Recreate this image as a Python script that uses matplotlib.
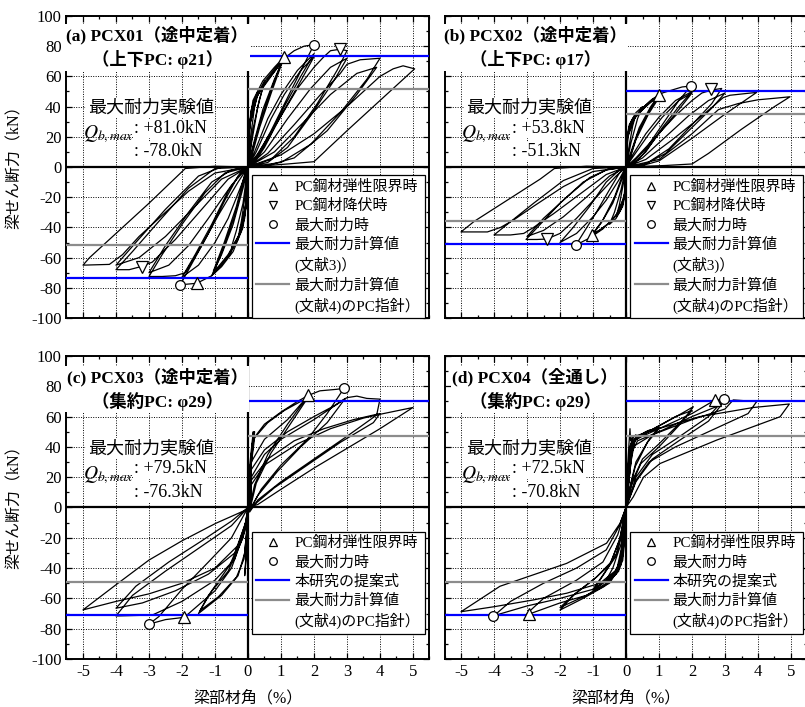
import matplotlib.pyplot as plt
import numpy as np
from matplotlib.lines import Line2D

plt.rcParams['font.family'] = ['Liberation Serif', 'Noto Sans CJK JP']
plt.rcParams['mathtext.fontset'] = 'stix'
plt.rcParams['axes.unicode_minus'] = False

# ---- hysteresis loops (drift %, shear kN) ----
a_pos = [(0, 0), (0.02, 18), (0.08, 35), (0.2, 45), (0.3, 50), (0.2, 40), (0.08, 20), (0, 2),
         (0, 0), (0.03, 22), (0.1, 38), (0.3, 48), (0.5, 56), (0.35, 45), (0.15, 25), (0.03, 5), (0, 0),
         (0.03, 24), (0.12, 40), (0.35, 50), (0.5, 57), (0.3, 40), (0.1, 15), (0, 0),
         (0.04, 26), (0.15, 44), (0.45, 57), (0.8, 66), (1.1, 73), (0.8, 58), (0.45, 38), (0.15, 14), (0, 0),
         (0.05, 27), (0.2, 45), (0.55, 58), (0.85, 66), (1.05, 71), (0.75, 54), (0.4, 32), (0.12, 10), (0, 0),
         (0.06, 28), (0.25, 46), (0.6, 58), (0.9, 66), (1.05, 70), (0.72, 50), (0.35, 26), (0.1, 6), (0, 0),
         (0.05, 28), (0.3, 48), (0.7, 60), (1.1, 72), (1.4, 77), (1.7, 80), (2.0, 81), (1.7, 68), (1.2, 46),
         (0.7, 24), (0.3, 8), (0, 0),
         (0.2, 10), (0.6, 32), (1.0, 48), (1.5, 64), (2.0, 75), (1.6, 60), (1.1, 40), (0.6, 18), (0.2, 4), (0, 0),
         (0.25, 10), (0.7, 32), (1.1, 48), (1.6, 64), (2.0, 73), (1.6, 57), (1.0, 34), (0.5, 13), (0.2, 3), (0, 0),
         (0.3, 9), (0.9, 30), (1.5, 52), (2.0, 66), (2.3, 73), (2.5, 77), (2.8, 78), (3.0, 77), (2.7, 64),
         (2.1, 42), (1.4, 20), (0.7, 5), (0, 0),
         (0.5, 10), (1.2, 32), (1.9, 52), (2.5, 66), (3.0, 72), (2.6, 57), (1.9, 34), (1.2, 13), (0.6, 3), (0, 0),
         (0.6, 9), (1.4, 28), (2.2, 48), (2.8, 62), (3.0, 68), (3.4, 71), (4.0, 72), (3.6, 58), (2.8, 36),
         (1.9, 15), (1.0, 3), (0, 0),
         (0.8, 10), (1.7, 30), (2.5, 48), (3.3, 62), (3.9, 66), (3.3, 48), (2.4, 24), (1.4, 6), (0.6, 1), (0, 0),
         (1.0, 8), (2.0, 22), (3.0, 40), (4.0, 60), (4.4, 65), (4.7, 67), (5.05, 65), (4.0, 44), (3.0, 24),
         (2.0, 3.5), (1.2, 2), (0, 0)]
a_neg = [(0, 0), (-0.02, -15), (-0.08, -30), (-0.2, -42), (-0.3, -47), (-0.2, -36), (-0.08, -18), (0, 0),
         (-0.03, -18), (-0.1, -34), (-0.3, -47), (-0.5, -53), (-0.35, -42), (-0.15, -24), (-0.03, -4), (0, 0),
         (-0.04, -22), (-0.15, -40), (-0.45, -56), (-0.8, -66), (-1.1, -72), (-0.8, -58), (-0.45, -38),
         (-0.15, -14), (0, 0),
         (-0.05, -22), (-0.2, -42), (-0.55, -58), (-0.85, -66), (-1.05, -70), (-0.75, -54), (-0.4, -32),
         (-0.12, -9), (0, 0),
         (-0.06, -24), (-0.25, -44), (-0.6, -58), (-0.9, -66), (-1.05, -69), (-0.72, -50), (-0.35, -26),
         (-0.1, -5), (0, 0),
         (-0.05, -26), (-0.3, -48), (-0.7, -62), (-1.1, -72), (-1.55, -77), (-2.05, -78), (-1.7, -64),
         (-1.2, -44), (-0.7, -22), (-0.3, -6), (0, 0),
         (-0.2, -12), (-0.6, -34), (-1.0, -50), (-1.5, -65), (-2.0, -73), (-1.6, -58), (-1.1, -38),
         (-0.6, -16), (-0.2, -3), (0, 0),
         (-0.3, -10), (-0.9, -32), (-1.4, -52), (-1.9, -70), (-2.2, -72), (-2.6, -72.5), (-3.0, -72.5),
         (-2.6, -58), (-2.0, -38), (-1.3, -17), (-0.7, -4), (0, 0),
         (-0.5, -12), (-1.2, -34), (-1.8, -52), (-2.4, -65), (-3.0, -70), (-2.5, -52), (-1.8, -30),
         (-1.1, -10), (-0.5, -2), (0, 0),
         (-0.6, -8), (-1.4, -28), (-2.2, -48), (-2.9, -63), (-3.25, -66), (-3.6, -68), (-4.0, -68),
         (-3.5, -56), (-2.7, -36), (-1.8, -14), (-1.0, -1), (0, 0),
         (-0.8, -8), (-1.6, -26), (-2.5, -46), (-3.3, -60), (-4.0, -65), (-3.4, -50), (-2.5, -28),
         (-1.5, -6), (-0.8, 0), (0, 0),
         (-1.0, -4), (-1.8, -16), (-2.6, -32), (-3.3, -46), (-3.8, -58), (-4.2, -64.5), (-5.0, -65),
         (-4.8, -60), (-4.0, -44), (-3.0, -24), (-1.9, -1), (-1.0, 0.5), (0, 0)]

b_pos = [(0, 0), (0.02, 15), (0.08, 26), (0.2, 32), (0.3, 35), (0.2, 27), (0.08, 12), (0, 0),
         (0.03, 18), (0.1, 28), (0.3, 36), (0.5, 40), (0.35, 32), (0.15, 16), (0.03, 3), (0, 0),
         (0.04, 20), (0.15, 30), (0.45, 38), (0.75, 44), (1.0, 48), (0.75, 40), (0.4, 26), (0.12, 8), (0, 0),
         (0.05, 20), (0.2, 31), (0.5, 39), (0.8, 45), (1.0, 47), (0.7, 37), (0.35, 22), (0.1, 5), (0, 0),
         (0.06, 20), (0.25, 32), (0.55, 39), (0.85, 45), (1.0, 46), (0.68, 35), (0.3, 18), (0.08, 3), (0, 0),
         (0.05, 22), (0.3, 34), (0.7, 42), (1.1, 49), (1.4, 51), (1.7, 53), (1.97, 53.6), (1.6, 44),
         (1.1, 28), (0.6, 12), (0.2, 3), (0, 0),
         (0.2, 8), (0.6, 22), (1.0, 33), (1.5, 44), (2.0, 50), (1.6, 40), (1.1, 26), (0.6, 10), (0.2, 2), (0, 0),
         (0.25, 8), (0.7, 22), (1.1, 33), (1.6, 44), (2.0, 49), (1.6, 38), (1.0, 22), (0.5, 8), (0.2, 1), (0, 0),
         (0.3, 6), (0.9, 20), (1.5, 34), (2.0, 44), (2.3, 49), (2.6, 51), (2.9, 52), (2.6, 42), (2.0, 28),
         (1.3, 12), (0.6, 2), (0, 0),
         (0.5, 6), (1.2, 20), (1.9, 34), (2.5, 44), (3.0, 49), (2.6, 39), (1.9, 24), (1.2, 9), (0.5, 1), (0, 0),
         (0.6, 5), (1.4, 18), (2.2, 32), (2.95, 46), (3.15, 47.5), (3.96, 49.4), (3.0, 35), (2.0, 19),
         (1.0, 4), (0.5, 1), (0, 0),
         (1.0, 5), (2.0, 22), (2.8, 38), (3.4, 42), (4.0, 44.5), (4.5, 45.5), (4.97, 46.5), (4.5, 40),
         (3.5, 25), (2.5, 9), (2.0, 2), (1.2, 1), (0, 0)]
b_neg = [(0, 0), (-0.02, -14), (-0.08, -24), (-0.2, -30), (-0.3, -33), (-0.2, -25), (-0.08, -11), (0, 0),
         (-0.03, -16), (-0.1, -26), (-0.3, -34), (-0.5, -38), (-0.35, -30), (-0.15, -15), (-0.03, -3), (0, 0),
         (-0.04, -18), (-0.15, -28), (-0.45, -36), (-0.75, -41), (-1.02, -45), (-0.75, -37), (-0.4, -24),
         (-0.12, -8), (0, 0),
         (-0.05, -18), (-0.2, -29), (-0.5, -37), (-0.8, -42), (-1.0, -44), (-0.7, -35), (-0.35, -20),
         (-0.1, -5), (0, 0),
         (-0.05, -20), (-0.3, -32), (-0.7, -41), (-1.1, -47), (-1.52, -51.7), (-1.3, -44), (-0.9, -30),
         (-0.5, -15), (-0.2, -4), (0, 0),
         (-0.2, -8), (-0.6, -22), (-1.0, -33), (-1.5, -44), (-2.0, -50), (-1.6, -40), (-1.1, -26),
         (-0.6, -10), (-0.2, -2), (0, 0),
         (-0.3, -6), (-0.9, -20), (-1.5, -34), (-2.0, -44), (-2.4, -47.7), (-2.7, -48), (-3.03, -48),
         (-2.6, -38), (-2.0, -24), (-1.3, -10), (-0.6, -2), (0, 0),
         (-0.5, -6), (-1.2, -20), (-1.9, -33), (-2.5, -42), (-3.0, -46), (-2.5, -34), (-1.8, -20),
         (-1.1, -7), (-0.5, -1), (0, 0),
         (-0.6, -5), (-1.4, -18), (-2.2, -31), (-2.8, -40), (-3.1, -44), (-3.5, -45), (-4.0, -45),
         (-3.6, -38), (-2.8, -24), (-1.9, -9), (-1.0, -1), (0, 0),
         (-1.0, -3), (-1.9, -13), (-2.8, -26), (-3.4, -35), (-3.8, -40), (-4.2, -43), (-5.0, -43),
         (-4.6, -36), (-3.6, -22), (-2.6, -8), (-2.17, -1), (-1.2, 0.5), (0, 0)]

c_pos = [(0, 0), (0.05, 20), (0.1, 35), (0.15, 45), (0.2, 50), (0.1, 30), (0.05, 10), (0, 0),
         (0.04, 25), (0.12, 42), (0.16, 50), (0.12, 36), (0.06, 15), (0, -2),
         (0.05, 22), (0.15, 45), (0.5, 55), (1.0, 63), (1.5, 70), (1.83, 74), (1.2, 55), (0.6, 35),
         (0.2, 15), (0.05, 0),
         (0.08, 25), (0.2, 46), (0.6, 56), (1.1, 64), (1.6, 70), (1.8, 72), (1.25, 54), (0.7, 36),
         (0.25, 16), (0.05, -2),
         (0.1, 30), (0.5, 45), (1.2, 58), (1.83, 74), (2.18, 77), (2.69, 78), (2.91, 78.7), (2.4, 62),
         (1.8, 45), (1.0, 28), (0.4, 12), (0.1, 0),
         (0.1, 25), (0.5, 38), (1.2, 50), (2.0, 60), (2.6, 67), (2.95, 72), (2.4, 56), (1.6, 40),
         (0.9, 24), (0.3, 8), (0.05, -2),
         (0.1, 20), (0.5, 35), (1.0, 45), (2.0, 58), (3.0, 72.5), (3.3, 73.5), (3.6, 72), (4.0, 71.5),
         (3.9, 61), (3.0, 47), (2.0, 32), (1.0, 17), (0.3, 5), (0.05, -3),
         (0.1, 18), (0.6, 32), (1.4, 44), (2.3, 52), (3.2, 58), (4.0, 62), (3.8, 56), (2.8, 43),
         (1.8, 28), (0.8, 13), (0.2, 2), (0, -3),
         (0.1, 15), (0.5, 28), (1.5, 42), (2.5, 52), (3.5, 59), (4.0, 61.5), (5.0, 66), (4.0, 52),
         (3.0, 39), (2.0, 26), (1.0, 12), (0.3, 2), (0, 0)]
c_neg = [(0, 0), (-0.03, -20), (-0.06, -35), (-0.1, -45), (-0.05, -28), (0, -10), (0.02, 5),
         (0, -5), (-0.1, -30), (-0.3, -45), (-0.8, -58), (-1.5, -70), (-1.2, -58), (-0.6, -42),
         (-0.15, -20), (0, 0),
         (0, -8), (-0.12, -34), (-0.35, -46), (-0.9, -59), (-1.45, -68), (-1.1, -55), (-0.55, -38),
         (-0.12, -16), (0.02, 2),
         (0, -10), (-0.5, -40), (-1.0, -55), (-1.93, -72.5), (-2.5, -74), (-3.0, -77), (-2.7, -72),
         (-2.0, -54), (-1.2, -36), (-0.5, -20), (0, 0),
         (0, -6), (-0.4, -34), (-1.0, -48), (-2.0, -62), (-2.9, -71), (-4.0, -71.6), (-3.5, -58),
         (-2.5, -42), (-1.5, -27), (-0.5, -12), (0, 0),
         (0, -6), (-0.4, -30), (-1.2, -44), (-2.2, -55), (-3.2, -63), (-4.0, -66.5), (-3.4, -52),
         (-2.4, -36), (-1.4, -22), (-0.5, -9), (0, 0),
         (0, -5), (-0.3, -25), (-1.0, -40), (-2.0, -50), (-3.0, -57), (-4.0, -62), (-5.0, -67.6),
         (-4.0, -51), (-3.0, -34.7), (-2.0, -22), (-0.97, -10.4), (-0.06, -1.6), (0, 0)]

d_pos = [(0, 0), (0.05, 20), (0.1, 38), (0.2, 46), (0.3, 48), (0.15, 30), (0.05, 10), (0, 0),
         (0.04, 24), (0.09, 42), (0.12, 52), (0.14, 44), (0.2, 47), (0.12, 28), (0.04, 8), (0, 0),
         (0.05, 20), (0.12, 40), (0.3, 46), (0.6, 50), (1.0, 53), (0.7, 45), (0.3, 30), (0.1, 12), (0, 0),
         (0.06, 22), (0.14, 42), (0.35, 47), (0.7, 51), (1.0, 52), (0.65, 43), (0.28, 27), (0.08, 9), (0, 0),
         (0.05, 22), (0.15, 42), (0.5, 48), (1.0, 54), (1.5, 60), (2.0, 64), (1.6, 55), (1.0, 42),
         (0.5, 32), (0.2, 18), (0, 0),
         (0.07, 24), (0.18, 43), (0.6, 49), (1.1, 55), (1.6, 61), (2.04, 66.5), (1.6, 54), (1.0, 40),
         (0.45, 29), (0.15, 14), (0, 0),
         (0.1, 35), (0.3, 45), (1.0, 52), (2.0, 62), (2.7, 71), (2.97, 71.4), (2.5, 60), (1.5, 45),
         (0.8, 35), (0.3, 20), (0, 0),
         (0.12, 34), (0.35, 44), (1.1, 51), (2.0, 60), (2.9, 68), (2.5, 57), (1.6, 44), (0.8, 32),
         (0.3, 17), (0, 0),
         (0.2, 40), (0.8, 48), (2.0, 58), (3.0, 65), (3.25, 71), (3.96, 69.9), (3.7, 62), (2.5, 50),
         (1.5, 40), (0.7, 30), (0.3, 18), (0, 0),
         (0.22, 46.7), (0.83, 51), (2.24, 60), (3.86, 66), (4.95, 68.3), (4.67, 59.9), (2.75, 44.5),
         (1.03, 29), (0.53, 20), (0.22, 7), (0, 0)]
d_neg = [(0, 0), (-0.05, -20), (-0.1, -32), (-0.2, -40), (-0.3, -43), (-0.15, -28), (-0.05, -10), (0, 0),
         (-0.04, -22), (-0.1, -35), (-0.3, -44), (-0.6, -48), (-0.4, -40), (-0.15, -24), (0, -3),
         (-0.1, -30), (-0.3, -42), (-0.6, -48), (-1.0, -55), (-0.7, -45), (-0.3, -32), (-0.1, -15), (0, 0),
         (-0.12, -32), (-0.35, -44), (-0.7, -50), (-1.0, -54), (-0.68, -44), (-0.28, -30), (-0.08, -12), (0, 0),
         (0, -8), (-0.2, -40), (-0.6, -50), (-1.2, -58), (-2.0, -66), (-1.6, -58), (-1.0, -48),
         (-0.5, -38), (-0.2, -22), (0, 0),
         (0, -6), (-0.22, -42), (-0.65, -52), (-1.3, -60), (-2.0, -67.7), (-1.55, -57), (-0.9, -46),
         (-0.45, -36), (-0.18, -20), (0, 0),
         (0, -5), (-0.15, -38), (-0.5, -50), (-1.2, -58), (-2.0, -63), (-2.93, -70.3), (-3.0, -70),
         (-2.5, -60), (-1.5, -48), (-0.7, -36), (-0.25, -18), (0, 0),
         (0, -5), (-0.15, -35), (-0.4, -45), (-1.0, -54), (-2.0, -60), (-3.0, -65), (-4.0, -71.4),
         (-3.5, -62), (-2.5, -50), (-1.5, -40), (-0.6, -28), (-0.2, -12), (0, 0),
         (0, -5), (-0.13, -32.5), (-0.28, -41), (-0.79, -50), (-1.8, -56.6), (-2.8, -61), (-4.0, -65.5),
         (-5.0, -68.8), (-3.82, -52), (-1.8, -36.9), (-0.59, -23.6), (-0.18, -10.4), (0, 0)]

# markers: (x, y)
a_elastic = [(1.1, 73), (-1.55, -77)]
a_yield = [(2.8, 78), (-3.2, -66)]
a_max = [(2.0, 81), (-2.05, -78)]
b_elastic = [(1.0, 47.7), (-1.02, -45)]
b_yield = [(2.58, 51.4), (-2.4, -47.7)]
b_max = [(1.96, 53.6), (-1.52, -51.7)]
c_elastic = [(1.83, 74), (-1.93, -72.5)]
c_max = [(2.91, 78.7), (-3.0, -77)]
d_elastic = [(2.7, 71), (-2.93, -70.3)]
d_max = [(2.97, 71.4), (-4.02, -71.4)]

# calculated strengths (+, -)
a_blue, a_gray = (73.3, -73.3), (51.5, -51.7)
b_blue, b_gray = (50.5, -51.0), (35.0, -36.0)
c_blue, c_gray = (70.0, -71.0), (47.5, -49.0)
d_blue, d_gray = (70.0, -71.0), (47.5, -49.0)

titles = ['(a) PCX01（途中定着）\n（上下PC: φ21）',
          '(b) PCX02（途中定着）\n（上下PC: φ17）',
          '(c) PCX03（途中定着）\n（集約PC: φ29）',
          '(d) PCX04（全通し）\n（集約PC: φ29）']
qmax_pos = ['+81.0kN', '+53.8kN', '+79.5kN', '+72.5kN']
qmax_neg = ['-78.0kN', '-51.3kN', '-76.3kN', '-70.8kN']

legend_ab = ['PC鋼材弾性限界時', 'PC鋼材降伏時', '最大耐力時', '最大耐力計算値', '(文献3)）',
             '最大耐力計算値', '(文献4)のPC指針）']
legend_cd = ['PC鋼材弾性限界時', '最大耐力時', '本研究の提案式', '最大耐力計算値', '(文献4)のPC指針）']

BLUE = '#0000ff'
GRAY = '#8c8c8c'

fig = plt.figure(figsize=(8.05, 7.07), dpi=100)
rects = [(0.0826, 0.5502, 0.4509, 0.4272), (0.5522, 0.5502, 0.4509, 0.4272),
         (0.0826, 0.0679, 0.4509, 0.4286), (0.5522, 0.0679, 0.4509, 0.4286)]

panels = [
    (a_pos, a_neg, a_elastic, a_yield, a_max, a_blue, a_gray),
    (b_pos, b_neg, b_elastic, b_yield, b_max, b_blue, b_gray),
    (c_pos, c_neg, c_elastic, None, c_max, c_blue, c_gray),
    (d_pos, d_neg, d_elastic, None, d_max, d_blue, d_gray),
]

mk = dict(ls='none', mfc='white', mec='k', mew=0.9, zorder=6)

for i, (rect, (pos, neg, el, yl, mx, blue, gray)) in enumerate(zip(rects, panels)):
    ax = fig.add_axes(rect)
    ax.set_xlim(-5.5, 5.5)
    ax.set_ylim(-100, 100)
    ax.set_xticks(np.arange(-5, 6, 1))
    ax.set_xticks(np.arange(-5.5, 5.6, 0.5), minor=True)
    ax.set_yticks(np.arange(-100, 101, 20))
    ax.set_yticks(np.arange(-100, 101, 10), minor=True)
    ax.tick_params(which='both', direction='in', top=True, right=True, labelsize=12, width=0.9)
    ax.tick_params(which='major', length=4)
    ax.tick_params(which='minor', length=2.5)
    if i % 2 == 1:
        ax.tick_params(labelleft=False)
    if i < 2:
        ax.tick_params(labelbottom=False)
    for s in ax.spines.values():
        s.set_linewidth(1.4)
    ax.grid(True, which='major', ls=(0, (1, 1.5)), color='k', lw=0.7)
    ax.set_axisbelow(True)
    ax.axhline(0, color='k', lw=1.6, zorder=2)
    ax.axvline(0, color='k', lw=1.6, zorder=2)

    for path in (pos, neg):
        xy = np.array(path)
        ax.plot(xy[:, 0], xy[:, 1], color='k', lw=0.9, zorder=3)

    ax.hlines(blue[0], 0, 5.5, color=BLUE, lw=1.6, zorder=4)
    ax.hlines(blue[1], -5.5, 0, color=BLUE, lw=1.6, zorder=4)
    ax.hlines(gray[0], 0, 5.5, color=GRAY, lw=1.6, zorder=4)
    ax.hlines(gray[1], -5.5, 0, color=GRAY, lw=1.6, zorder=4)

    e = np.array(el)
    ax.plot(e[:, 0], e[:, 1], marker='^', ms=8, **mk)
    if yl is not None:
        y_ = np.array(yl)
        ax.plot(y_[:, 0], y_[:, 1], marker='v', ms=8, **mk)
    m = np.array(mx)
    ax.plot(m[:, 0], m[:, 1], marker='o', ms=7, **mk)

    box = dict(facecolor='white', edgecolor='none', pad=1.0)
    ty = 79 if i < 2 else 78
    ax.text(-2.75, ty, titles[i], ha='center', va='center', fontsize=12.5, fontweight='bold',
            multialignment='center', linespacing=1.4, bbox=box, zorder=7)
    ax.text(-2.95, 39, '最大耐力実験値', ha='center', va='center', fontsize=13, bbox=box, zorder=7)
    ax.text(-3.45, 25.5, ': ' + qmax_pos[i], ha='left', va='center', fontsize=13, bbox=box, zorder=7)
    ax.text(-3.45, 21.5, r'$Q_{b,max}$', ha='right', va='center', fontsize=14, zorder=7)
    ax.text(-3.45, 10, ': ' + qmax_neg[i], ha='left', va='center', fontsize=13, bbox=box, zorder=7)

    h_el = Line2D([], [], marker='^', ms=6, **mk)
    h_yl = Line2D([], [], marker='v', ms=6, **mk)
    h_mx = Line2D([], [], marker='o', ms=5.5, **mk)
    h_bl = Line2D([], [], color=BLUE, lw=1.6)
    h_gr = Line2D([], [], color=GRAY, lw=1.6)
    h_no = Line2D([], [], ls='none')
    if i < 2:
        handles = [h_el, h_yl, h_mx, h_bl, h_no, h_gr, h_no]
        labels = legend_ab
        anchor = (0.511, 0.0)
    else:
        handles = [h_el, h_mx, h_bl, h_gr, h_no]
        labels = legend_cd
        anchor = (0.511, 0.083)
    leg = ax.legend(handles, labels, loc='lower left', bbox_to_anchor=anchor, fontsize=10.8,
                    frameon=True, fancybox=False, framealpha=1, edgecolor='k',
                    handlelength=2.2, handletextpad=0.35, labelspacing=0.33,
                    borderpad=0.3, borderaxespad=0)
    leg.get_frame().set_linewidth(0.9)
    leg.set_zorder(8)

for fy, x in [(0.769, 0.019), (0.288, 0.019)]:
    fig.text(x, fy, '梁せん断力（kN）', rotation=90, ha='center', va='center', fontsize=11.5)
for fx in (0.308, 0.778):
    fig.text(fx, 0.0127, '梁部材角（%）', ha='center', va='center', fontsize=11.5)

fig.savefig('out.png', dpi=100)
